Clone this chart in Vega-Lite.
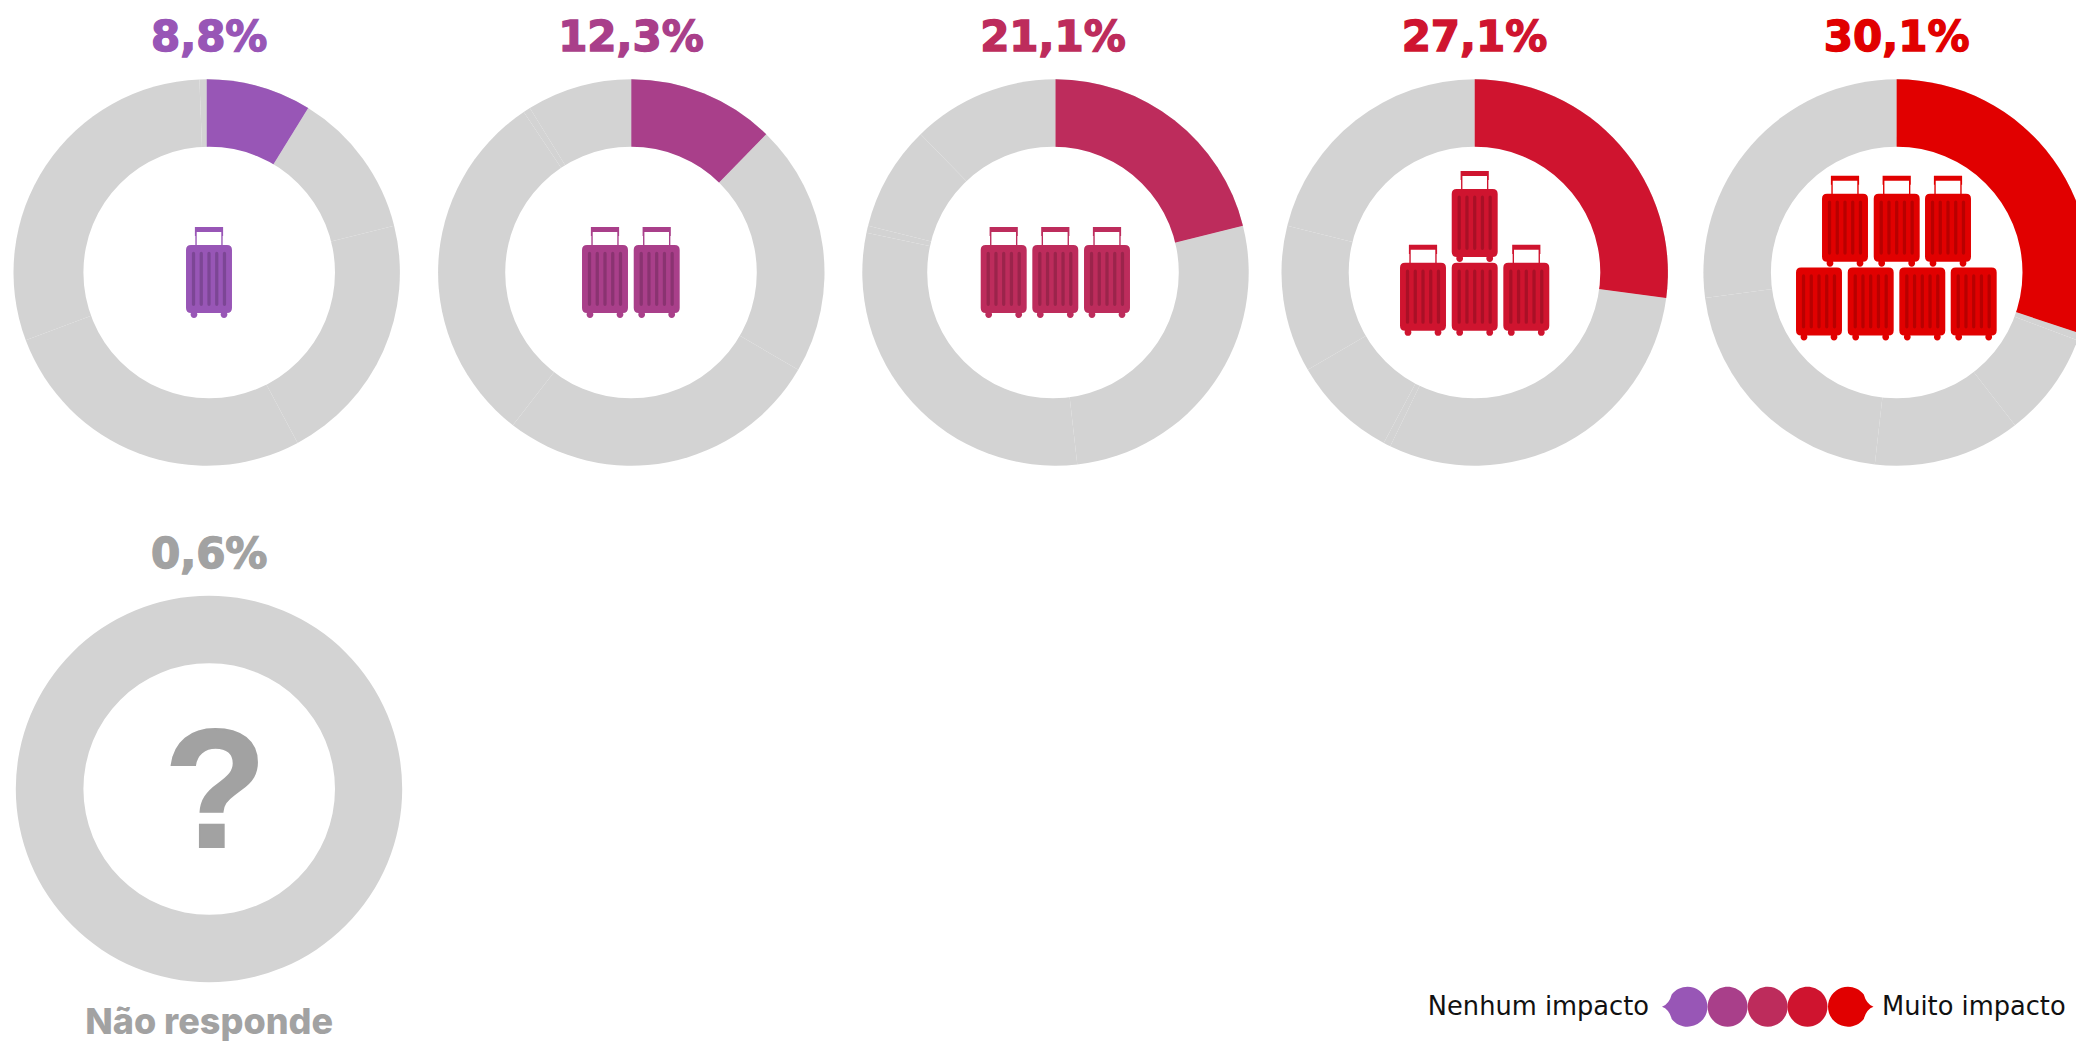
{
  "$schema": "https://vega.github.io/schema/vega-lite/v6.json",
  "width": 2076,
  "height": 1042,
  "padding": 0,
  "autosize": {"type": "none"},
  "background": "#ffffff",
  "config": {"view": {"stroke": null}},
  "datasets": {
    "aneis": [
      {"posicao":0,"ordem":0,"nivel":"Impacto 1","percentual":8.8},
      {"posicao":0,"ordem":1,"nivel":"Impacto 2","percentual":12.3},
      {"posicao":0,"ordem":2,"nivel":"Impacto 3","percentual":21.1},
      {"posicao":0,"ordem":3,"nivel":"Impacto 4","percentual":27.1},
      {"posicao":0,"ordem":4,"nivel":"Impacto 5","percentual":30.1},
      {"posicao":0,"ordem":5,"nivel":"Não responde","percentual":0.6},
      {"posicao":1,"ordem":0,"nivel":"Impacto 2","percentual":12.3},
      {"posicao":1,"ordem":1,"nivel":"Impacto 3","percentual":21.1},
      {"posicao":1,"ordem":2,"nivel":"Impacto 4","percentual":27.1},
      {"posicao":1,"ordem":3,"nivel":"Impacto 5","percentual":30.1},
      {"posicao":1,"ordem":4,"nivel":"Não responde","percentual":0.6},
      {"posicao":1,"ordem":5,"nivel":"Impacto 1","percentual":8.8},
      {"posicao":2,"ordem":0,"nivel":"Impacto 3","percentual":21.1},
      {"posicao":2,"ordem":1,"nivel":"Impacto 4","percentual":27.1},
      {"posicao":2,"ordem":2,"nivel":"Impacto 5","percentual":30.1},
      {"posicao":2,"ordem":3,"nivel":"Não responde","percentual":0.6},
      {"posicao":2,"ordem":4,"nivel":"Impacto 1","percentual":8.8},
      {"posicao":2,"ordem":5,"nivel":"Impacto 2","percentual":12.3},
      {"posicao":3,"ordem":0,"nivel":"Impacto 4","percentual":27.1},
      {"posicao":3,"ordem":1,"nivel":"Impacto 5","percentual":30.1},
      {"posicao":3,"ordem":2,"nivel":"Não responde","percentual":0.6},
      {"posicao":3,"ordem":3,"nivel":"Impacto 1","percentual":8.8},
      {"posicao":3,"ordem":4,"nivel":"Impacto 2","percentual":12.3},
      {"posicao":3,"ordem":5,"nivel":"Impacto 3","percentual":21.1},
      {"posicao":4,"ordem":0,"nivel":"Impacto 5","percentual":30.1},
      {"posicao":4,"ordem":1,"nivel":"Não responde","percentual":0.6},
      {"posicao":4,"ordem":2,"nivel":"Impacto 1","percentual":8.8},
      {"posicao":4,"ordem":3,"nivel":"Impacto 2","percentual":12.3},
      {"posicao":4,"ordem":4,"nivel":"Impacto 3","percentual":21.1},
      {"posicao":4,"ordem":5,"nivel":"Impacto 4","percentual":27.1},
      {"posicao":5,"ordem":0,"nivel":"Total","percentual":100}
    ],
    "rotulos": [
      {"posicao":30,"nivel":"Impacto 1","texto":"8,8%"},
      {"posicao":31,"nivel":"Impacto 2","texto":"12,3%"},
      {"posicao":32,"nivel":"Impacto 3","texto":"21,1%"},
      {"posicao":33,"nivel":"Impacto 4","texto":"27,1%"},
      {"posicao":34,"nivel":"Impacto 5","texto":"30,1%"},
      {"posicao":35,"nivel":"Não responde","texto":"0,6%"}
    ],
    "malas": [
      {"posicao":13,"nivel":"Impacto 1","forma":"com pega"},
      {"posicao":14,"nivel":"Impacto 2","forma":"com pega"},
      {"posicao":15,"nivel":"Impacto 2","forma":"com pega"},
      {"posicao":16,"nivel":"Impacto 3","forma":"com pega"},
      {"posicao":17,"nivel":"Impacto 3","forma":"com pega"},
      {"posicao":18,"nivel":"Impacto 3","forma":"com pega"},
      {"posicao":19,"nivel":"Impacto 4","forma":"com pega"},
      {"posicao":20,"nivel":"Impacto 4","forma":"com pega"},
      {"posicao":21,"nivel":"Impacto 4","forma":"sem pega"},
      {"posicao":22,"nivel":"Impacto 4","forma":"com pega"},
      {"posicao":23,"nivel":"Impacto 5","forma":"com pega"},
      {"posicao":24,"nivel":"Impacto 5","forma":"com pega"},
      {"posicao":25,"nivel":"Impacto 5","forma":"com pega"},
      {"posicao":26,"nivel":"Impacto 5","forma":"sem pega"},
      {"posicao":27,"nivel":"Impacto 5","forma":"sem pega"},
      {"posicao":28,"nivel":"Impacto 5","forma":"sem pega"},
      {"posicao":29,"nivel":"Impacto 5","forma":"sem pega"}
    ],
    "miolos": [
      {"posicao":30},{"posicao":31},{"posicao":32},{"posicao":33},{"posicao":34},{"posicao":35}
    ],
    "legenda": [
      {"posicao":6,"nivel":"Impacto 1","forma":"inicio"},
      {"posicao":7,"nivel":"Impacto 2","forma":"meio"},
      {"posicao":8,"nivel":"Impacto 3","forma":"meio"},
      {"posicao":9,"nivel":"Impacto 4","forma":"meio"},
      {"posicao":10,"nivel":"Impacto 5","forma":"fim"}
    ]
  },
  "encoding": {
    "x": {
      "field": "posicao", "type": "quantitative", "axis": null,
      "scale": {
        "domain": [0,1,2,3,4,5,6,7,8,9,10,11,12,13,14,15,16,17,18,19,20,21,22,23,24,25,26,27,28,29,30,31,32,33,34,35],
        "range": [206.7,631.3,1055.5,1474.7,1896.6,209,1687.5,1727.6,1767.7,1807.5,1848,1649,1882,209,605,656.7,1003.7,1055.3,1107,1474.7,1423,1474.7,1526.3,1845,1896.7,1948,1819,1870.7,1922.3,1973.7,209.2,631,1053,1474.5,1896.7,209.2]
      }
    },
    "y": {
      "field": "posicao", "type": "quantitative", "axis": null,
      "scale": {
        "domain": [0,1,2,3,4,5,6,7,8,9,10,11,12,13,14,15,16,17,18,19,20,21,22,23,24,25,26,27,28,29,30,31,32,33,34,35],
        "range": [272.5,272.5,272.5,272.5,272.5,789,1006.7,1006.7,1006.7,1006.7,1006.7,1006.7,1006.7,272.5,272.5,272.5,272.5,272.5,272.5,216.4,290.3,290.3,290.3,221.2,221.2,221.2,295,295,295,295,272.5,272.5,272.5,272.5,272.5,789]
      }
    }
  },
  "layer": [
    {
      "description": "Disco cinzento com todas as categorias",
      "data": {"name": "aneis"},
      "transform": [
        {"stack": "percentual", "groupby": ["posicao"], "sort": [{"field": "ordem"}], "as": ["inicio", "fim"]}
      ],
      "mark": {"type": "arc", "radius": 193.2, "color": "#d3d3d3"},
      "encoding": {
        "theta": {"field": "inicio", "type": "quantitative", "stack": null, "scale": {"domain": [0, 100], "range": [0, 6.283185307]}},
        "theta2": {"field": "fim"}
      }
    },
    {
      "description": "Fatia em destaque de cada disco",
      "data": {"name": "aneis"},
      "transform": [
        {"stack": "percentual", "groupby": ["posicao"], "sort": [{"field": "ordem"}], "as": ["inicio", "fim"]},
        {"filter": "datum.ordem === 0 && datum.posicao < 5"}
      ],
      "mark": {"type": "arc", "radius": 193.2},
      "encoding": {
        "theta": {"field": "inicio", "type": "quantitative", "stack": null, "scale": {"domain": [0, 100], "range": [0, 6.283185307]}},
        "theta2": {"field": "fim"},
        "color": {"field": "nivel", "type": "nominal", "legend": null, "scale": {"domain": ["Impacto 1","Impacto 2","Impacto 3","Impacto 4","Impacto 5","Não responde"], "range": ["#9856b6","#a93f8a","#bd2c5c","#cf142f","#e10000","#a2a2a2"]}}
      }
    },
    {
      "description": "Miolo branco que transforma cada disco em anel",
      "data": {"name": "miolos"},
      "mark": {"type": "point", "filled": true, "opacity": 1, "strokeWidth": 0, "shape": "circle", "size": 63300, "color": "#ffffff"}
    },
    {
      "description": "Percentagem por cima de cada anel",
      "data": {"name": "rotulos"},
      "mark": {"type": "text", "font": "DejaVu Sans", "fontWeight": "bold", "fontSize": 42, "baseline": "alphabetic", "align": "center", "dy": -221.5, "strokeWidth": 1.4},
      "encoding": {
        "text": {"field": "texto"},
        "fill": {"field": "nivel", "type": "nominal", "legend": null, "scale": {"domain": ["Impacto 1","Impacto 2","Impacto 3","Impacto 4","Impacto 5","Não responde"], "range": ["#9856b6","#a93f8a","#bd2c5c","#cf142f","#e10000","#a2a2a2"]}},
        "stroke": {"field": "nivel", "type": "nominal", "legend": null, "scale": {"domain": ["Impacto 1","Impacto 2","Impacto 3","Impacto 4","Impacto 5","Não responde"], "range": ["#9856b6","#a93f8a","#bd2c5c","#cf142f","#e10000","#a2a2a2"]}}
      }
    },
    {
      "description": "Corpo, pega e rodas das malas",
      "data": {"name": "malas"},
      "mark": {"type": "point", "filled": true, "opacity": 1, "strokeWidth": 0, "size": 8281},
      "encoding": {
        "color": {"field": "nivel", "type": "nominal", "legend": null},
        "shape": {
          "field": "forma", "type": "nominal", "legend": null,
          "scale": {
            "domain": ["com pega", "sem pega", "inicio", "meio", "fim"],
            "range": [
              "M-0.395,-0.604H0.395Q0.505,-0.604 0.505,-0.494V0.78Q0.505,0.89 0.395,0.89H-0.395Q-0.505,0.89 -0.505,0.78V-0.494Q-0.505,-0.604 -0.395,-0.604ZM-0.405,0.925A0.075,0.075 0 1 1 -0.255,0.925A0.075,0.075 0 1 1 -0.405,0.925ZM0.255,0.925A0.075,0.075 0 1 1 0.405,0.925A0.075,0.075 0 1 1 0.255,0.925ZM-0.31,-1H0.31V-0.8H0.3V-0.6H0.27V-0.89H-0.27V-0.6H-0.3V-0.8H-0.31Z",
              "M-0.395,-0.604H0.395Q0.505,-0.604 0.505,-0.494V0.78Q0.505,0.89 0.395,0.89H-0.395Q-0.505,0.89 -0.505,0.78V-0.494Q-0.505,-0.604 -0.395,-0.604ZM-0.405,0.925A0.075,0.075 0 1 1 -0.255,0.925A0.075,0.075 0 1 1 -0.405,0.925ZM0.255,0.925A0.075,0.075 0 1 1 0.405,0.925A0.075,0.075 0 1 1 0.255,0.925Z",
              "M-1,0Q-0.72,-0.1 -0.62,-0.48A0.784,0.784 0 1 1 -0.62,0.48Q-0.72,0.1 -1,0Z",
              "M-0.784,0A0.784,0.784 0 1 1 0.784,0A0.784,0.784 0 1 1 -0.784,0Z",
              "M1,0Q0.72,0.1 0.62,0.48A0.784,0.784 0 1 1 0.62,-0.48Q0.72,-0.1 1,0Z"
            ]
          }
        }
      }
    },
    {
      "description": "Riscas escuras das malas",
      "data": {"name": "malas"},
      "mark": {
        "type": "point", "filled": true, "opacity": 0.18, "strokeWidth": 0, "size": 8281, "color": "#000000",
        "shape": "M-0.376,-0.42Q-0.376,-0.457 -0.34,-0.457Q-0.304,-0.457 -0.304,-0.42V0.7Q-0.304,0.736 -0.34,0.736Q-0.376,0.736 -0.376,0.7ZM-0.206,-0.42Q-0.206,-0.457 -0.17,-0.457Q-0.134,-0.457 -0.134,-0.42V0.7Q-0.134,0.736 -0.17,0.736Q-0.206,0.736 -0.206,0.7ZM-0.036,-0.42Q-0.036,-0.457 0,-0.457Q0.036,-0.457 0.036,-0.42V0.7Q0.036,0.736 0,0.736Q-0.036,0.736 -0.036,0.7ZM0.134,-0.42Q0.134,-0.457 0.17,-0.457Q0.206,-0.457 0.206,-0.42V0.7Q0.206,0.736 0.17,0.736Q0.134,0.736 0.134,0.7ZM0.304,-0.42Q0.304,-0.457 0.34,-0.457Q0.376,-0.457 0.376,-0.42V0.7Q0.376,0.736 0.34,0.736Q0.304,0.736 0.304,0.7Z"
      }
    },
    {
      "description": "Ponto de interrogação no anel sem resposta",
      "data": {"values": [{"posicao": 35, "texto": "?"}]},
      "mark": {"type": "text", "font": "Liberation Sans", "fontWeight": "bold", "fontSize": 168, "baseline": "alphabetic", "align": "center", "dx": 6, "dy": 58, "color": "#a2a2a2", "stroke": "#a2a2a2", "strokeWidth": 2},
      "encoding": {"text": {"field": "texto"}}
    },
    {
      "description": "Legenda do anel sem resposta",
      "data": {"values": [{"posicao": 35, "texto": "Não responde"}]},
      "mark": {"type": "text", "font": "Inter", "fontWeight": 800, "fontSize": 36, "baseline": "alphabetic", "align": "center", "dy": 245, "color": "#a2a2a2"},
      "encoding": {"text": {"field": "texto"}}
    },
    {
      "description": "Escala de cores de impacto",
      "data": {"name": "legenda"},
      "mark": {"type": "point", "filled": true, "opacity": 1, "strokeWidth": 0, "size": 2601},
      "encoding": {
        "color": {"field": "nivel", "type": "nominal", "legend": null},
        "shape": {
          "field": "forma", "type": "nominal", "legend": null,
          "scale": {
            "domain": ["com pega", "sem pega", "inicio", "meio", "fim"],
            "range": [
              "M-0.395,-0.604H0.395Q0.505,-0.604 0.505,-0.494V0.78Q0.505,0.89 0.395,0.89H-0.395Q-0.505,0.89 -0.505,0.78V-0.494Q-0.505,-0.604 -0.395,-0.604ZM-0.405,0.925A0.075,0.075 0 1 1 -0.255,0.925A0.075,0.075 0 1 1 -0.405,0.925ZM0.255,0.925A0.075,0.075 0 1 1 0.405,0.925A0.075,0.075 0 1 1 0.255,0.925ZM-0.31,-1H0.31V-0.8H0.3V-0.6H0.27V-0.89H-0.27V-0.6H-0.3V-0.8H-0.31Z",
              "M-0.395,-0.604H0.395Q0.505,-0.604 0.505,-0.494V0.78Q0.505,0.89 0.395,0.89H-0.395Q-0.505,0.89 -0.505,0.78V-0.494Q-0.505,-0.604 -0.395,-0.604ZM-0.405,0.925A0.075,0.075 0 1 1 -0.255,0.925A0.075,0.075 0 1 1 -0.405,0.925ZM0.255,0.925A0.075,0.075 0 1 1 0.405,0.925A0.075,0.075 0 1 1 0.255,0.925Z",
              "M-1,0Q-0.72,-0.1 -0.62,-0.48A0.784,0.784 0 1 1 -0.62,0.48Q-0.72,0.1 -1,0Z",
              "M-0.784,0A0.784,0.784 0 1 1 0.784,0A0.784,0.784 0 1 1 -0.784,0Z",
              "M1,0Q0.72,0.1 0.62,0.48A0.784,0.784 0 1 1 0.62,-0.48Q0.72,-0.1 1,0Z"
            ]
          }
        }
      }
    },
    {
      "description": "Extremo esquerdo da escala",
      "data": {"values": [{"posicao": 11, "texto": "Nenhum impacto"}]},
      "mark": {"type": "text", "font": "DejaVu Sans", "fontSize": 25.7, "baseline": "alphabetic", "align": "right", "dy": 8.5, "color": "#111111"},
      "encoding": {"text": {"field": "texto"}}
    },
    {
      "description": "Extremo direito da escala",
      "data": {"values": [{"posicao": 12, "texto": "Muito impacto"}]},
      "mark": {"type": "text", "font": "DejaVu Sans", "fontSize": 25.7, "baseline": "alphabetic", "align": "left", "dy": 8.5, "color": "#111111"},
      "encoding": {"text": {"field": "texto"}}
    }
  ]
}
